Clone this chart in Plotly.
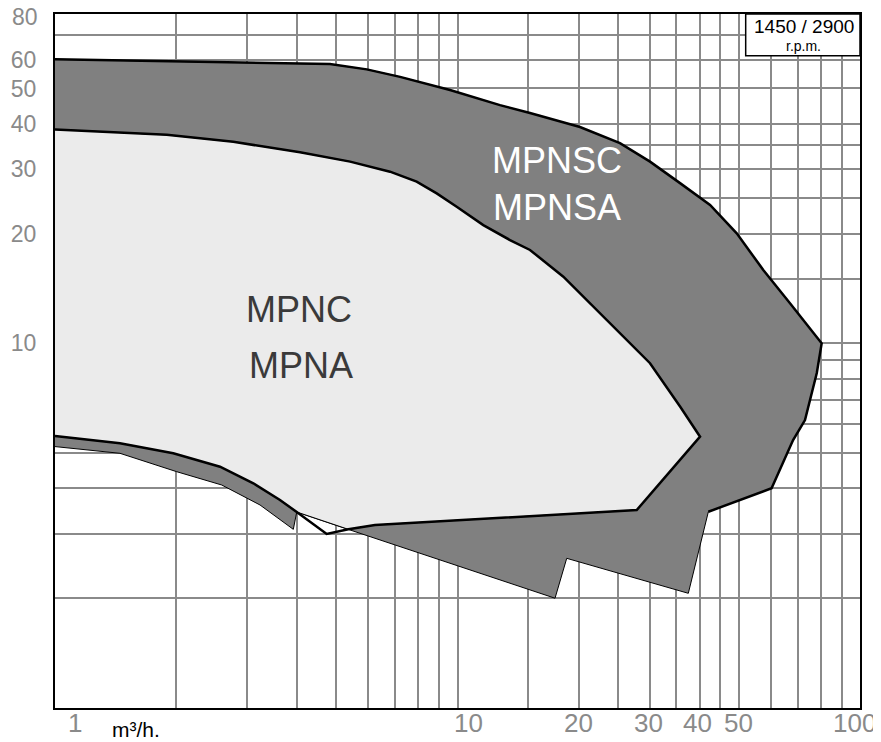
import numpy as np
import plotly.graph_objects as go

# ---------------- data (flow Q in m3/h, head H in m) ----------------
# MPNSC / MPNSA range: outer (thick) edge, then thin lower edge
mpns_outer_q = [1.0, 2.0, 4.06, 4.82, 5.95, 7.2, 9.58, 12.75, 15.14, 20.15, 25.33,
                30.08, 35.72, 42.41, 49.4, 57.5, 67.0, 80.3, 78.1, 73.0, 68.2, 60.3, 42.0]
mpns_outer_h = [60.1, 59.2, 58.3, 58.3, 56.4, 53.8, 49.5, 45.0, 42.8, 39.2, 35.4,
                31.5, 27.5, 23.95, 20.03, 15.89, 12.88, 10.0, 8.29, 6.16, 5.43, 4.005, 3.453]
mpns_lower_q = [37.45, 18.68, 17.47, 5.41, 3.986, 3.909, 3.232, 2.596, 2.007, 1.45, 1.0]
mpns_lower_h = [2.063, 2.573, 2.0, 3.077, 3.447, 3.09, 3.603, 4.088, 4.446, 4.994, 5.21]

# MPNC / MPNA range: top edge to the notch, notch, bottom edge back to Q=1
mpn_top_q = [1.0, 1.895, 2.773, 4.062, 5.41, 6.797, 7.915, 8.878, 9.954, 11.59, 13.5,
             15.14, 18.32, 22.17, 24.86, 30.08, 35.72, 40.05, 27.88, 6.237, 5.355]
mpn_top_h = [38.6, 37.3, 35.7, 33.4, 31.5, 29.56, 27.75, 25.78, 23.7, 21.1, 19.2,
             18.03, 15.23, 12.35, 10.88, 8.82, 6.71, 5.546, 3.49, 3.176, 3.09]
mpn_notch_q = [4.732]
mpn_notch_h = [3.0]
mpn_bottom_q = [3.986, 3.622, 3.11, 2.57, 1.967, 1.45, 1.0]
mpn_bottom_h = [3.447, 3.72, 4.132, 4.588, 4.994, 5.32, 5.57]

# grid and labels
x_grid = [1, 2, 3, 4, 5, 6, 7, 8, 9, 10, 15, 20, 25, 30, 35, 40, 45, 50, 60, 70, 80, 90, 100]
y_grid = [1, 2, 3, 4, 5, 6, 7, 8, 9, 10, 15, 20, 25, 30, 35, 40, 50, 60, 70, 80]
y_labels = {10: "10", 20: "20", 30: "30", 40: "40", 50: "50", 60: "60"}
y_top_label = ("80", 80)
x_label_vals = [1, 10, 20, 30, 40, 50, 100]
x_label_text = ["1", "10", "20", "30", "40", "50", "100"]
x_label_shift = [20, 11, 0, -1, -2, 0, -6]

region_labels = [("MPNSC", 0.6236, 0.7896, "white"), ("MPNSA", 0.6236, 0.7219, "white"),
                 ("MPNC", 0.3025, 0.5735, "#3a3a3a"), ("MPNA", 0.3050, 0.4935, "#3a3a3a")]

GRID = "#8a8a8a"
TXT = "#8a8a8a"
FONT = "Liberation Sans"

fig = go.Figure()

# dark region fill (thin edge)
fig.add_trace(go.Scatter(
    x=mpns_outer_q + mpns_lower_q, y=mpns_outer_h + mpns_lower_h,
    mode="lines", fill="toself", fillcolor="#808080",
    line=dict(color="black", width=1), hoverinfo="skip", showlegend=False))
# dark region thick outer edge
fig.add_trace(go.Scatter(
    x=mpns_outer_q, y=mpns_outer_h, mode="lines",
    line=dict(color="black", width=2.5), hoverinfo="skip", showlegend=False))
# light region fill
fig.add_trace(go.Scatter(
    x=mpn_top_q + mpn_bottom_q, y=mpn_top_h + mpn_bottom_h,
    mode="lines", fill="toself", fillcolor="#ebebeb",
    line=dict(color="black", width=1), hoverinfo="skip", showlegend=False))
# light region thick outline with notch
fig.add_trace(go.Scatter(
    x=mpn_top_q + mpn_notch_q + mpn_bottom_q, y=mpn_top_h + mpn_notch_h + mpn_bottom_h,
    mode="lines", line=dict(color="black", width=2.5), hoverinfo="skip", showlegend=False))

annotations = []
for v, t, s in zip(x_label_vals, x_label_text, x_label_shift):
    annotations.append(dict(x=np.log10(v), y=0, xref="x", yref="paper", text=t,
                            showarrow=False, xanchor="center", yanchor="middle",
                            xshift=s, yshift=-15, font=dict(size=26, color=TXT, family=FONT)))
annotations.append(dict(x=0, y=np.log10(y_top_label[1]), xref="paper", yref="y",
                        text=y_top_label[0], showarrow=False, xanchor="right",
                        yanchor="middle", xshift=-15, yshift=-2.5,
                        font=dict(size=23, color=TXT, family=FONT)))
annotations.append(dict(x=0.1, y=0, xref="paper", yref="paper", text="m³/h.",
                        showarrow=False, xanchor="center", yanchor="middle", yshift=-21,
                        font=dict(size=21, color="black", family=FONT)))
for t, xp, yp, c in region_labels:
    annotations.append(dict(x=xp, y=yp, xref="paper", yref="paper", text=t, showarrow=False,
                            xanchor="center", yanchor="middle",
                            font=dict(size=36, color=c, family=FONT)))
annotations.append(dict(x=0.93, y=1, xref="paper", yref="paper", xanchor="center",
                        yanchor="middle", text="1450 / 2900", showarrow=False,
                        yshift=-12.5, font=dict(size=19, color="black", family=FONT)))
annotations.append(dict(x=0.93, y=1, xref="paper", yref="paper", xanchor="center",
                        yanchor="middle", text="r.p.m.", showarrow=False,
                        yshift=-32, font=dict(size=14, color="black", family=FONT)))
annotations.append(dict(x=0.7876, y=1, xref="paper", yref="paper", xanchor="center",
                        yanchor="middle", text="g", showarrow=False,
                        yshift=30, font=dict(size=24, color="#777777", family=FONT)))

# page body adds an 8px offset, so the figure is 8px smaller with margins reduced by 8
fig.update_layout(
    width=873, height=734,
    margin=dict(l=47, r=21, t=6, b=34, autoexpand=False),
    paper_bgcolor="white", plot_bgcolor="white",
    showlegend=False,
    xaxis=dict(type="log", range=[0, 2], tickvals=x_grid, showticklabels=False,
               showgrid=True, gridcolor=GRID, gridwidth=2, ticks="", automargin=False,
               showline=True, linecolor="black", linewidth=2, mirror=True, zeroline=False,
               fixedrange=True),
    yaxis=dict(type="log", range=[0, np.log10(80) + 1e-6], tickvals=y_grid,
               ticktext=[y_labels.get(v, "") for v in y_grid],
               tickfont=dict(size=23, color=TXT, family=FONT), ticks="",
               ticklabelstandoff=12, automargin=False, ticklabeloverflow="allow",
               showgrid=True, gridcolor=GRID, gridwidth=2,
               showline=True, linecolor="black", linewidth=2, mirror=True, zeroline=False,
               fixedrange=True),
    annotations=annotations,
    shapes=[dict(type="rect", xref="paper", yref="paper", x0=0.858, x1=1.0, y0=0.940, y1=1.0,
                 fillcolor="white", line=dict(color="black", width=1.5), layer="above")],
)

fig.write_html("out.html")
